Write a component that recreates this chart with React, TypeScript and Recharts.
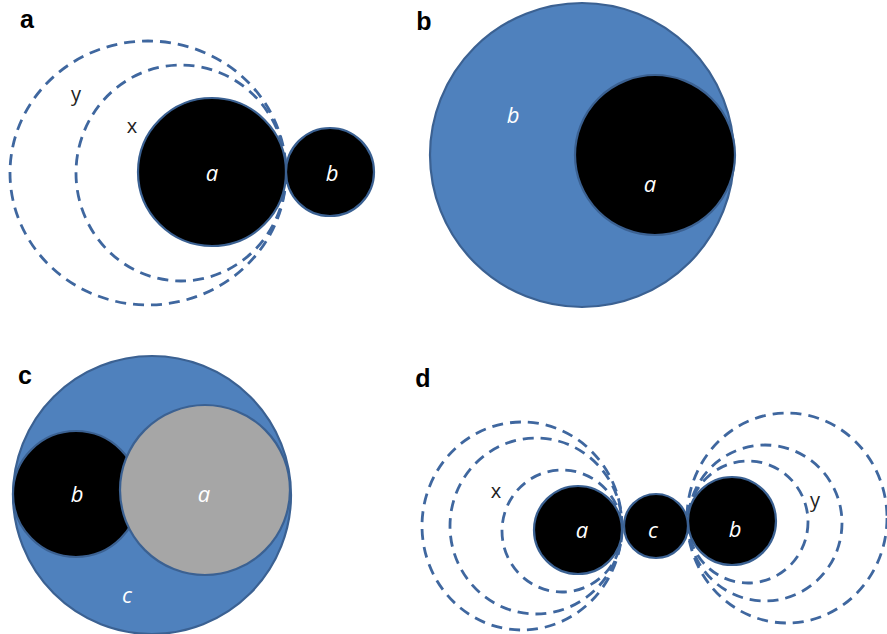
import React from 'react';
import { ScatterChart, Scatter, XAxis, YAxis } from 'recharts';

const W = 887;
const H = 634;

// Dashed "field" rings (centre x, centre y, radius x, radius y) in image units
const dashedRings = [
  { x: 148, y: 173, rx: 138, ry: 132 },
  { x: 181, y: 173, rx: 105, ry: 108 },
  { x: 522, y: 526, rx: 100, ry: 104 },
  { x: 536, y: 526, rx: 86, ry: 88 },
  { x: 562, y: 531, rx: 60, ry: 61 },
  { x: 787, y: 518, rx: 100, ry: 105 },
  { x: 765, y: 523, rx: 77, ry: 78 },
  { x: 748, y: 522, rx: 60, ry: 61 },
];

// Filled circles, drawn in this order
const circles = [
  { x: 212, y: 172, r: 74, kind: 'black' },
  { x: 330, y: 172, r: 44, kind: 'black' },
  { x: 582, y: 155, r: 152, kind: 'blue' },
  { x: 655, y: 155, r: 80, kind: 'black' },
  { x: 152, y: 495, r: 139, kind: 'blue' },
  { x: 76, y: 494, r: 63, kind: 'black' },
  { x: 205, y: 490, r: 85, kind: 'gray' },
  { x: 578, y: 530, r: 44, kind: 'black' },
  { x: 656, y: 526, r: 32, kind: 'black' },
  { x: 732, y: 521, r: 44, kind: 'black' },
];

const panelLabels = [
  { x: 27, y: 28, text: 'a' },
  { x: 424, y: 30, text: 'b' },
  { x: 25, y: 384, text: 'c' },
  { x: 423, y: 387, text: 'd' },
];

const innerLabels = [
  { x: 212, y: 181, text: 'a' },
  { x: 332, y: 181, text: 'b' },
  { x: 513, y: 123, text: 'b' },
  { x: 650, y: 192, text: 'a' },
  { x: 77, y: 502, text: 'b' },
  { x: 204, y: 502, text: 'a' },
  { x: 127, y: 603, text: 'c' },
  { x: 582, y: 538, text: 'a' },
  { x: 653, y: 538, text: 'c' },
  { x: 735, y: 537, text: 'b' },
];

const fieldLabels = [
  { x: 76, y: 101, text: 'y' },
  { x: 132, y: 133, text: 'x' },
  { x: 496, y: 498, text: 'x' },
  { x: 815, y: 507, text: 'y' },
];

const K = W / W; // pixels per data unit (1:1 mapping)

const FILLS: Record<string, string> = {
  black: '#000000',
  blue: '#4f81bd',
  gray: '#a6a6a6',
};

const RingShape = (props: any) => {
  const { cx, cy, payload } = props;
  return (
    <ellipse
      cx={cx}
      cy={cy}
      rx={payload.rx * K}
      ry={payload.ry * K}
      fill="none"
      stroke="#3f679f"
      strokeWidth={2.8}
      strokeDasharray="11 7"
    />
  );
};

const CircleShape = (props: any) => {
  const { cx, cy, payload } = props;
  return (
    <circle
      cx={cx}
      cy={cy}
      r={payload.r * K}
      fill={FILLS[payload.kind]}
      stroke="#3b6192"
      strokeWidth={2.2}
    />
  );
};

const PanelText = (props: any) => {
  const { cx, cy, payload } = props;
  return (
    <text
      x={cx}
      y={cy}
      textAnchor="middle"
      fontFamily="'Liberation Sans', Arial, sans-serif"
      fontWeight="bold"
      fontSize={25}
      fill="#000"
    >
      {payload.text}
    </text>
  );
};

const InnerText = (props: any) => {
  const { cx, cy, payload } = props;
  return (
    <text
      x={cx}
      y={cy}
      textAnchor="middle"
      fontFamily="'Open Sans', sans-serif"
      fontStyle="italic"
      fontSize={22}
      fill="#ffffff"
    >
      {payload.text}
    </text>
  );
};

const FieldText = (props: any) => {
  const { cx, cy, payload } = props;
  return (
    <text
      x={cx}
      y={cy}
      textAnchor="middle"
      fontFamily="'Open Sans', sans-serif"
      fontSize={20}
      fill="#222"
    >
      {payload.text}
    </text>
  );
};

export default function App() {
  return (
    <div style={{ position: 'absolute', left: 0, top: 0, width: W, height: H, background: '#fff' }}>
      <ScatterChart width={W} height={H} margin={{ top: 0, right: 0, bottom: 0, left: 0 }}>
        <XAxis type="number" dataKey="x" domain={[0, W]} hide allowDataOverflow />
        <YAxis type="number" dataKey="y" domain={[0, H]} reversed hide allowDataOverflow />
        <Scatter data={dashedRings} shape={RingShape} isAnimationActive={false} />
        <Scatter data={circles} shape={CircleShape} isAnimationActive={false} />
        <Scatter data={panelLabels} shape={PanelText} isAnimationActive={false} />
        <Scatter data={innerLabels} shape={InnerText} isAnimationActive={false} />
        <Scatter data={fieldLabels} shape={FieldText} isAnimationActive={false} />
      </ScatterChart>
    </div>
  );
}
